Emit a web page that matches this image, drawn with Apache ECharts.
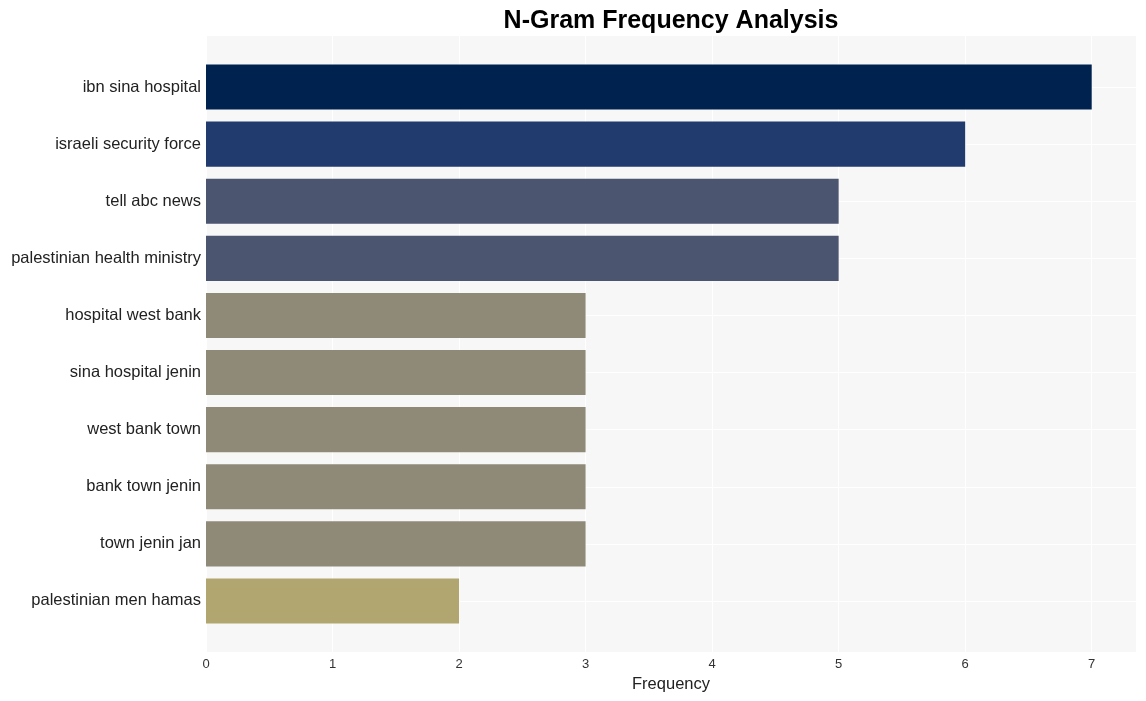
<!DOCTYPE html>
<html>
<head>
<meta charset="utf-8">
<script src="https://cdn.jsdelivr.net/npm/echarts@6/dist/echarts.min.js"></script>
<style>
html,body{margin:0;padding:0;background:#fff;}
#c{width:1146px;height:701px;}
</style>
</head>
<body>
<div id="c"></div>
<script>
const categories = ["ibn sina hospital","israeli security force","tell abc news","palestinian health ministry","hospital west bank","sina hospital jenin","west bank town","bank town jenin","town jenin jan","palestinian men hamas"];
const values = [7,6,5,5,3,3,3,3,3,2];
const barColors = ["#00224e","#223b6e","#4b5570","#4b5570","#8f8a78","#8f8a78","#8f8a78","#8f8a78","#8f8a78","#b1a66f"];
const xTicks = [0,1,2,3,4,5,6,7];
const xMax = 7.35;
const FONT = 'Liberation Sans, Arial, sans-serif';

const chart = echarts.init(document.getElementById('c'), null, {renderer:'canvas'});
chart.setOption({
  animation:false,
  backgroundColor:'#ffffff',
  title:{
    text:'N-Gram Frequency Analysis',
    left:666, top:4, textAlign:'center',
    textStyle:{fontFamily:FONT,fontWeight:'bold',fontSize:25,color:'#000'}
  },
  grid:[
    {left:206,right:10,top:58.5,bottom:71.5,show:false,containLabel:false},
    {left:206,right:10,top:36,bottom:49,show:true,backgroundColor:'#f7f7f7',borderWidth:0,containLabel:false,z:-1}
  ],
  xAxis:[
    {gridIndex:0,type:'value',min:0,max:xMax,interval:1,show:false,splitLine:{show:false}},
    {gridIndex:1,type:'value',min:0,max:xMax,interval:1,z:-1,
      name:'Frequency',nameLocation:'middle',nameGap:24,
      nameTextStyle:{fontFamily:FONT,fontSize:16.5,color:'#222'},
      axisLine:{show:false},axisTick:{show:false},
      axisLabel:{fontFamily:FONT,fontSize:13,color:'#333',margin:6,
        formatter:function(v){return xTicks.indexOf(v)>=0?String(v):'';}},
      splitLine:{show:true,lineStyle:{color:'#ffffff',width:1}}
    }
  ],
  yAxis:[
    {gridIndex:0,type:'category',data:categories,inverse:true,
      axisLine:{show:false},axisTick:{show:false},
      axisLabel:{fontFamily:FONT,fontSize:16.5,color:'#222',margin:5},
      splitLine:{show:true,alignWithLabel:true,lineStyle:{color:'#ffffff',width:1}}
    },
    {gridIndex:1,type:'value',show:false,splitLine:{show:false}}
  ],
  series:[{
    type:'bar',xAxisIndex:0,yAxisIndex:0,
    data:values.map((v,i)=>({value:v,itemStyle:{color:barColors[i]}})),
    barCategoryGap:'21%'
  }]
});
</script>
</body>
</html>
